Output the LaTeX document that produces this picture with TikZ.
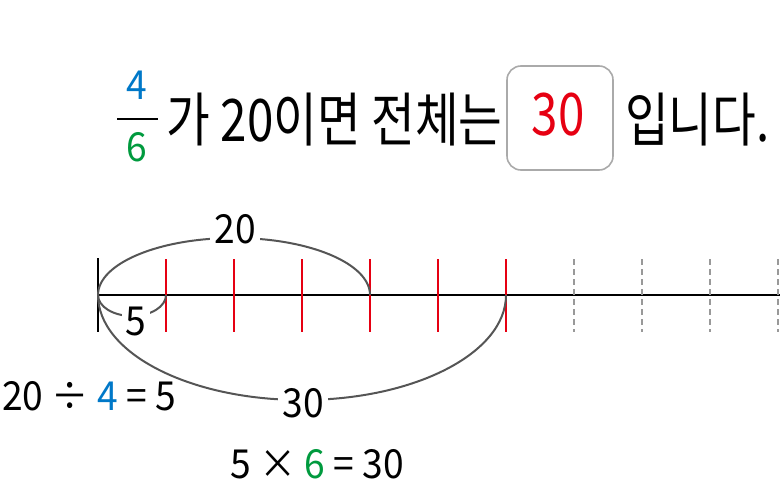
\documentclass[tikz,border=0pt]{standalone}
\usepackage{fontspec}
\setmainfont{Noto Sans CJK KR}
\newfontfamily\bigfam{Noto Sans CJK KR}[FakeStretch=0.81]
\newfontfamily\smallfam{Noto Sans CJK KR}[FakeStretch=0.93]
\definecolor{nred}{HTML}{E60012}
\definecolor{nblue}{HTML}{0078C8}
\definecolor{ngreen}{HTML}{009A3E}
\definecolor{arcgray}{HTML}{555555}
\definecolor{boxgray}{HTML}{AAAAAA}
\definecolor{dashgray}{HTML}{999999}
\begin{document}
\begin{tikzpicture}[x=0.75pt,y=-0.75pt,
  bigtxt/.style={inner sep=0pt,font=\bigfam\fontsize{44}{48}\selectfont},
  smalltxt/.style={inner sep=0pt,font=\smallfam\fontsize{30}{34}\selectfont},
  masklabel/.style={smalltxt,fill=white,inner xsep=3pt,inner ysep=1pt},
  arcline/.style={draw=arcgray,line width=1.5pt},
  redtick/.style={draw=nred,line width=1.8pt},
  dashtick/.style={draw=dashgray,line width=1.5pt,dash pattern=on 4.5pt off 3pt},
  axisline/.style={draw=black,line width=1.9pt}]
\useasboundingbox (0,0) rectangle (780,495);
% top sentence
\node[smalltxt,anchor=base,text=nblue] (num) at (137,100) {4};
\node[smalltxt,anchor=base,text=ngreen] (den) at (137,162) {6};
\coordinate (barL) at (117,119);
\coordinate (barR) at (158,119);
\draw[line width=1.5pt] (barL) -- (barR);
\node[bigtxt,anchor=base west] (t1) at (166,142) {가 20이면 전체는};
\node[draw=boxgray,line width=1.2pt,rounded corners=10.5pt,minimum width=79.5pt,minimum height=78pt] (box) at (560,118) {};
\node[bigtxt,anchor=base,text=nred] (ans) at (558,136) {30};
\node[bigtxt,anchor=base west] (t2) at (625,142) {입니다.};
% number line
\coordinate (o) at (98,295);
\coordinate (e) at (780,295);
\draw[axisline] (o) -- (e);
\coordinate (ot) at (98,258);
\coordinate (ob) at (98,332);
\draw[axisline] (ot) -- (ob);
\foreach \i in {1,...,6}{
  \coordinate (rt\i) at (98+68*\i,259);
  \coordinate (rb\i) at (98+68*\i,332);
  \draw[redtick] (rt\i) -- (rb\i);
}
\foreach \i in {7,...,10}{
  \coordinate (dt\i) at (98+68*\i,259);
  \coordinate (db\i) at (98+68*\i,332);
  \draw[dashtick] (dt\i) -- (db\i);
}
% arcs
\draw[arcline] (o) arc[start angle=180,end angle=360,x radius=136,y radius=57];
\draw[arcline] (o) arc[start angle=180,end angle=0,x radius=34,y radius=21];
\draw[arcline] (o) arc[start angle=180,end angle=0,x radius=204,y radius=105];
\node[masklabel,anchor=base] (l20) at (235,243) {20};
\node[masklabel,anchor=base] (l5) at (136,335) {5};
\node[masklabel,anchor=base] (l30) at (303,417) {30};
% equations
\node[smalltxt,anchor=base west] (eq1) at (2,410) {20 ÷ \textcolor{nblue}{4} = 5};
\node[smalltxt,anchor=base] (eq2) at (317,478) {5 × \textcolor{ngreen}{6} = 30};
\end{tikzpicture}
\end{document}
